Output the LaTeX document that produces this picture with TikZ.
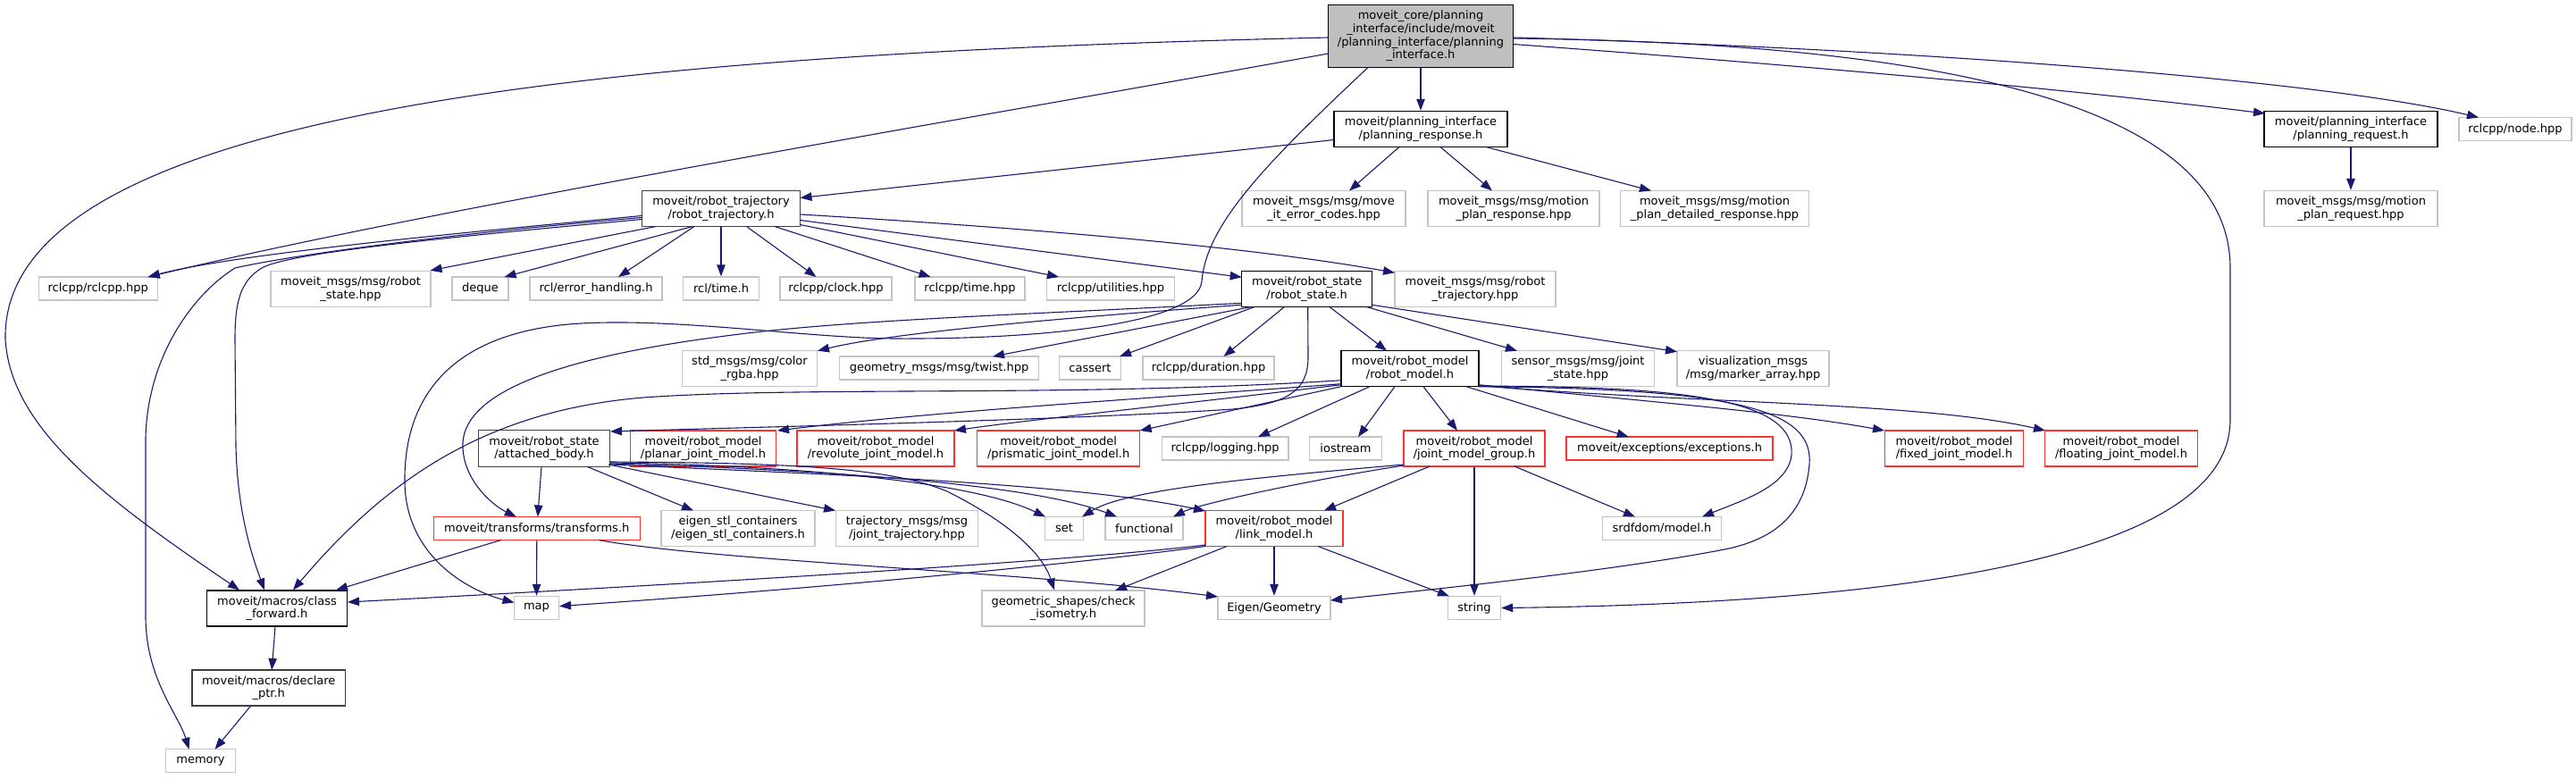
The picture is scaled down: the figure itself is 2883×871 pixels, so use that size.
\documentclass[tikz,border=0pt]{standalone}
\usepackage{fontspec}
\setmainfont{DejaVu Sans}
\usetikzlibrary{arrows.meta,calc}
\newcommand\nfont{\fontsize{13pt}{14.7pt}\selectfont}
\definecolor{edgec}{HTML}{191970}
\definecolor{grayb}{HTML}{C4C4C4}
\definecolor{redb}{HTML}{FF3030}
\definecolor{darkb}{HTML}{404040}
\definecolor{mainfill}{HTML}{BFBFBF}
\tikzset{
 nb/.style={rectangle, inner sep=0pt, align=center, font=\nfont, line width=1.4pt, fill=white},
 sz/.style 2 args={minimum width=#1pt, minimum height=#2pt},
 ext/.style={nb, draw=grayb},
 doc/.style={nb, draw=black},
 dgr/.style={nb, draw=darkb},
 trunc/.style={nb, draw=redb},
 mainn/.style={nb, draw=black, fill=mainfill},
 e/.style={draw=edgec, line width=1.1pt, -{Triangle[length=13pt,width=9.5pt]}},
}
\begin{document}
\begin{tikzpicture}[x=1pt,y=-1pt]
\fill[white] (0,0) rectangle (2883,871);
\useasboundingbox (0,0) rectangle (2883,871);
% nodes
\node[mainn,sz={207}{70}] (main) at (1590,40.5) {moveit\_core/planning\\\_interface/include/moveit\\/planning\_interface/planning\\\_interface.h};
\node[doc,sz={194}{40}] (presp) at (1590,144.5) {moveit/planning\_interface\\/planning\_response.h};
\node[doc,sz={194}{40}] (preq) at (2631,144.5) {moveit/planning\_interface\\/planning\_request.h};
\node[ext,sz={126}{26}] (nodehpp) at (2815,144.5) {rclcpp/node.hpp};
\node[ext,sz={183}{40}] (errcodes) at (1481.5,233.5) {moveit\_msgs/msg/move\\\_it\_error\_codes.hpp};
\node[ext,sz={192}{40}] (mpresp) at (1694,233.5) {moveit\_msgs/msg/motion\\\_plan\_response.hpp};
\node[ext,sz={211}{40}] (mpdet) at (1919,233.5) {moveit\_msgs/msg/motion\\\_plan\_detailed\_response.hpp};
\node[ext,sz={194}{40}] (mpreq) at (2631,233.5) {moveit\_msgs/msg/motion\\\_plan\_request.hpp};
\node[dgr,sz={177}{40}] (rtraj) at (807,233.5) {moveit/robot\_trajectory\\/robot\_trajectory.h};
\node[ext,sz={133}{26}] (rclcpp) at (109.7,323) {rclcpp/rclcpp.hpp};
\node[ext,sz={179}{40}] (rstatehpp) at (392.5,323.3) {moveit\_msgs/msg/robot\\\_state.hpp};
\node[ext,sz={63}{26}] (deque) at (537.5,323) {deque};
\node[ext,sz={148}{26}] (errh) at (667,323) {rcl/error\_handling.h};
\node[ext,sz={85}{26}] (timeh) at (807,323) {rcl/time.h};
\node[ext,sz={125}{26}] (clock) at (935.5,323) {rclcpp/clock.hpp};
\node[ext,sz={123}{26}] (timehpp) at (1085.5,323) {rclcpp/time.hpp};
\node[ext,sz={143}{26}] (util) at (1243,323) {rclcpp/utilities.hpp};
\node[doc,sz={146}{40}] (rstate) at (1462.7,323.3) {moveit/robot\_state\\/robot\_state.h};
\node[ext,sz={180}{40}] (rtrajhpp) at (1651,323.3) {moveit\_msgs/msg/robot\\\_trajectory.hpp};
\node[ext,sz={151.5}{40}] (color) at (839,412.7) {std\_msgs/msg/color\\\_rgba.hpp};
\node[ext,sz={223}{26}] (twist) at (1051,412) {geometry\_msgs/msg/twist.hpp};
\node[ext,sz={69}{26}] (cassert) at (1220,412) {cassert};
\node[ext,sz={147}{26}] (duration) at (1352.5,412) {rclcpp/duration.hpp};
\node[doc,sz={154}{40}] (rmodel) at (1578,412.7) {moveit/robot\_model\\/robot\_model.h};
\node[ext,sz={171.5}{40}] (jstate) at (1766,412.7) {sensor\_msgs/msg/joint\\\_state.hpp};
\node[ext,sz={170}{40}] (marker) at (1962,412.7) {visualization\_msgs\\/msg/marker\_array.hpp};
\node[dgr,sz={147.5}{40.6}] (attached) at (609,502) {moveit/robot\_state\\/attached\_body.h};
\node[trunc,sz={163}{40}] (planar) at (787,502) {moveit/robot\_model\\/planar\_joint\_model.h};
\node[trunc,sz={176}{40}] (revolute) at (980,502) {moveit/robot\_model\\/revolute\_joint\_model.h};
\node[trunc,sz={182}{40}] (prismatic) at (1184.6,502) {moveit/robot\_model\\/prismatic\_joint\_model.h};
\node[ext,sz={141.6}{26}] (logging) at (1371,502) {rclcpp/logging.hpp};
\node[ext,sz={80.6}{26}] (iostream) at (1506,502) {iostream};
\node[trunc,sz={158}{40}] (jmg) at (1650,502) {moveit/robot\_model\\/joint\_model\_group.h};
\node[trunc,sz={231}{26}] (exceptions) at (1868.6,502) {moveit/exceptions/exceptions.h};
\node[trunc,sz={155.5}{40}] (fixed) at (2187,502) {moveit/robot\_model\\/fixed\_joint\_model.h};
\node[trunc,sz={170.5}{40}] (floating) at (2374,502) {moveit/robot\_model\\/floating\_joint\_model.h};
\node[trunc,sz={231}{26}] (transforms) at (600.8,591.5) {moveit/transforms/transforms.h};
\node[ext,sz={172}{40}] (eigenstl) at (826,591.5) {eigen\_stl\_containers\\/eigen\_stl\_containers.h};
\node[ext,sz={159}{40}] (jtraj) at (1015,591.5) {trajectory\_msgs/msg\\/joint\_trajectory.hpp};
\node[ext,sz={43}{26}] (set) at (1191,591.5) {set};
\node[ext,sz={87}{26}] (functional) at (1280.5,591.5) {functional};
\node[trunc,sz={154}{40}] (link) at (1426,591.5) {moveit/robot\_model\\/link\_model.h};
\node[ext,sz={133}{26}] (srdf) at (1860,591.5) {srdfdom/model.h};
\node[doc,sz={157}{40}] (cfwd) at (310,681) {moveit/macros/class\\\_forward.h};
\node[ext,sz={50}{26}] (map) at (600.5,680.5) {map};
\node[ext,sz={182}{40}] (checkiso) at (1190,681) {geometric\_shapes/check\\\_isometry.h};
\node[ext,sz={126}{26}] (eigen) at (1426,680.5) {Eigen/Geometry};
\node[ext,sz={59}{26}] (string) at (1650,680.5) {string};
\node[dgr,sz={171.5}{40}] (declare) at (300.7,770) {moveit/macros/declare\\\_ptr.h};
\node[ext,sz={78}{26}] (memory) at (224.5,851.7) {memory};
% main edges
\draw[e] (main.south) -- (presp.north);
\draw[e] ($(main)+(103.5,9)$) .. controls (2000,72) and (2300,98) .. ($(preq)+(-96,-17.5)$);
\draw[e] ($(main)+(103.5,1.5)$) .. controls (2150,55) and (2600,90) .. ($(nodehpp)+(-41,-13)$);
\draw[e] ($(main)+(103.5,2.5)$) .. controls (2150,48) and (2496,110) .. (2496,300) -- (2496,470) .. controls (2496,640) and (2050,676) .. (string.east);
\draw[e] ($(main)+(-103.5,19.5)$) .. controls (1100,130) and (500,230) .. ($(rclcpp)+(56,-13)$);
\draw[e] ($(main)+(-103.5,1.5)$) .. controls (700,60) and (0,120) .. (6,380) .. controls (12,480) and (120,560) .. ($(cfwd)+(-42,-20.5)$);
\draw[e] ($(main)+(-59,35)$) .. controls (1420,180) and (1350,250) .. (1345,315) .. controls (1340,365) and (1150,380) .. (1000,379) .. controls (900,378) and (760,356) .. (650,362) .. controls (480,372) and (452,470) .. (453,540) .. controls (454,620) and (520,660) .. ($(map)+(-25,-6)$);
% robot_trajectory edges
\draw[e] ($(rtraj)+(-88.5,8)$) .. controls (500,262) and (260,285) .. ($(rclcpp)+(56,-13)$);
\draw[e] ($(rtraj)+(-88.5,10)$) .. controls (500,262) and (330,285) .. (263,300) .. controls (215,330) and (165,400) .. (163,490) -- (163,690) .. controls (163,760) and (200,800) .. ($(memory)+(-13,-13)$);
\draw[e] ($(rtraj)+(-88.5,12)$) .. controls (450,270) and (320,285) .. (293,300) .. controls (268,315) and (263,340) .. (263,380) -- (264,500) .. controls (266,580) and (285,630) .. ($(cfwd)+(-14,-20.5)$);
\draw[e] ($(rtraj)+(-73,20)$) -- ($(rstatehpp)+(89,-20.5)$);
\draw[e] ($(rtraj)+(-32,20)$) -- ($(deque)+(27,-13)$);
\draw[e] ($(rtraj)+(-30,20)$) -- ($(errh)+(25,-13)$);
\draw[e] (rtraj.south) -- (timeh.north);
\draw[e] ($(rtraj)+(28.5,20)$) -- ($(clock)+(-22,-13)$);
\draw[e] ($(rtraj)+(60,20)$) -- ($(timehpp)+(-44,-13)$);
\draw[e] ($(rtraj)+(88.5,18)$) -- ($(util)+(-58,-13)$);
\draw[e] ($(rtraj)+(88.5,13)$) -- ($(rstate)+(-73,-13)$);
\draw[e] ($(rtraj)+(88.5,6.5)$) .. controls (1200,258) and (1420,280) .. ($(rtrajhpp)+(-90,-18)$);
% planning_response / request
\draw[e] ($(presp)+(-97,12)$) -- ($(rtraj)+(88.5,-12)$);
\draw[e] ($(presp)+(-24,20)$) -- ($(errcodes)+(28.5,-20)$);
\draw[e] ($(presp)+(22,20)$) -- ($(mpresp)+(-24,-20)$);
\draw[e] ($(presp)+(73,20)$) -- ($(mpdet)+(-71,-20)$);
\draw[e] (preq.south) -- (mpreq.north);
% robot_state edges
\draw[e] ($(rstate)+(-73,18)$) .. controls (1200,355) and (1000,372) .. ($(color)+(76,-20)$);
\draw[e] ($(rstate)+(-61,20)$) -- ($(twist)+(60,-13)$);
\draw[e] ($(rstate)+(-58,20)$) -- ($(cassert)+(33,-13)$);
\draw[e] ($(rstate)+(-25,20)$) -- ($(duration)+(17,-13)$);
\draw[e] ($(rstate)+(25,20)$) -- ($(rmodel)+(-26,-20)$);
\draw[e] ($(rstate)+(66,20)$) -- ($(jstate)+(-68,-20)$);
\draw[e] ($(rstate)+(73,18)$) -- ($(marker)+(-85,-19)$);
\draw[e] ($(rstate)+(-73,16)$) .. controls (1150,352) and (950,358) .. (820,375) .. controls (620,400) and (522,440) .. (518,495) .. controls (516,535) and (550,565) .. ($(transforms)+(-23,-13)$);
\draw[e] ($(rstate)+(1,20)$) -- (1464,400) .. controls (1464,438) and (1440,452) .. (1380,458) .. controls (1200,470) and (850,478) .. ($(attached)+(74,-19)$);
% robot_model edges
\draw[e] ($(rmodel)+(-77,13)$) .. controls (1200,445) and (900,432) .. (720,445) .. controls (540,460) and (430,540) .. ($(cfwd)+(18,-20.5)$);
\draw[e] ($(rmodel)+(-77,17)$) .. controls (1300,445) and (1050,460) .. ($(planar)+(83,-20)$);
\draw[e] ($(rmodel)+(-77,18)$) .. controls (1300,455) and (1150,470) .. ($(revolute)+(88,-20)$);
\draw[e] ($(rmodel)+(-77,20)$) -- ($(prismatic)+(91,-20)$);
\draw[e] ($(rmodel)+(-45,20)$) -- ($(logging)+(37,-13)$);
\draw[e] ($(rmodel)+(-17,20)$) -- ($(iostream)+(14,-13)$);
\draw[e] ($(rmodel)+(15,20)$) -- ($(jmg)+(-19,-20)$);
\draw[e] ($(rmodel)+(63,20)$) -- ($(exceptions)+(-46,-13)$);
\draw[e] ($(rmodel)+(77,18)$) .. controls (1850,450) and (2000,462) .. ($(fixed)+(-78,-20)$);
\draw[e] ($(rmodel)+(77,19)$) .. controls (1900,452) and (2150,450) .. ($(floating)+(-85,-20)$);
\draw[e] ($(rmodel)+(77,19.5)$) .. controls (1900,432) and (2010,450) .. (2005,510) .. controls (2000,545) and (1950,560) .. ($(srdf)+(45,-13)$);
\draw[e] ($(rmodel)+(77,20)$) .. controls (1950,435) and (2030,460) .. (2025,520) .. controls (2020,580) and (1980,605) .. (1930,615) .. controls (1800,640) and (1600,660) .. ($(eigen)+(63,-8.5)$);
% joint_model_group edges
\draw[e] ($(jmg)+(-79,18)$) .. controls (1400,535) and (1260,548) .. ($(set)+(20,-13)$);
\draw[e] ($(jmg)+(-79,19)$) .. controls (1450,540) and (1340,565) .. ($(functional)+(32.5,-13)$);
\draw[e] ($(jmg)+(-50,20)$) -- ($(link)+(56,-20)$);
\draw[e] (jmg.south) -- (string.north);
\draw[e] ($(jmg)+(45,20)$) -- ($(srdf)+(-30,-13)$);
% attached_body edges
\draw[e] ($(attached)+(-3,20.3)$) -- ($(transforms)+(1,-13)$);
\draw[e] ($(attached)+(48,20.3)$) -- ($(eigenstl)+(-50,-20)$);
\draw[e] ($(attached)+(72,18)$) -- ($(jtraj)+(-80,-20)$);
\draw[e] ($(attached)+(73.75,16)$) .. controls (850,520) and (1080,535) .. ($(set)+(-21,-13)$);
\draw[e] ($(attached)+(73.75,17)$) .. controls (900,525) and (1150,540) .. ($(functional)+(-30.5,-13)$);
\draw[e] ($(attached)+(73.75,18)$) .. controls (900,530) and (1200,540) .. ($(link)+(-77,-19.5)$);
\draw[e] ($(attached)+(73.75,15)$) .. controls (900,518) and (1000,525) .. (1060,550) .. controls (1120,580) and (1165,615) .. ($(checkiso)+(-10,-20.5)$);
% link_model edges
\draw[e] ($(link)+(-77,18.5)$) .. controls (1200,628) and (800,652) .. ($(cfwd)+(79,-7)$);
\draw[e] ($(link)+(-77,20)$) .. controls (1200,632) and (900,660) .. ($(map)+(25.5,-2)$);
\draw[e] ($(link)+(-53,20)$) -- ($(checkiso)+(58,-20)$);
\draw[e] (link.south) -- (eigen.north);
\draw[e] ($(link)+(49,20)$) -- ($(string)+(-28,-13)$);
% transforms edges
\draw[e] ($(transforms)+(-40,13)$) -- ($(cfwd)+(66,-20.5)$);
\draw[e] (transforms.south) -- (map.north);
\draw[e] ($(transforms)+(69,13)$) .. controls (800,628) and (1150,640) .. ($(eigen)+(-63,-12.5)$);
% macros
\draw[e] ($(cfwd)+(-2,20)$) -- ($(declare)+(3.5,-20)$);
\draw[e] ($(declare)+(-20,20)$) -- ($(memory)+(16,-13)$);
\end{tikzpicture}
\end{document}
